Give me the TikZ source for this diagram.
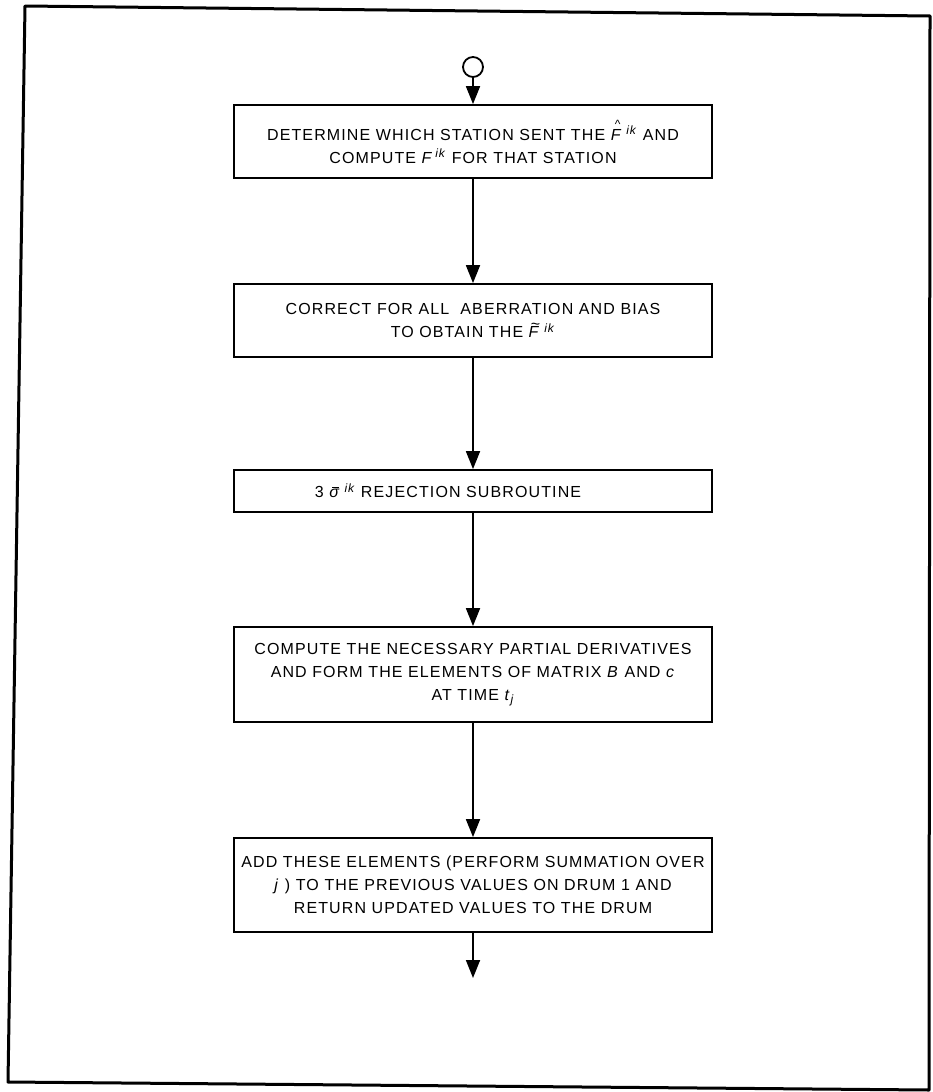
\documentclass[tikz,border=0pt]{standalone}
\usepackage{fontspec}
\setmainfont{Liberation Sans}[LetterSpace=7]
\usetikzlibrary{arrows.meta}
\newcommand\myover[2]{\leavevmode\vbox{\offinterlineskip\halign{\hfil##\hfil\cr#1\cr\noalign{\kern1pt}#2\cr}}}
\newcommand\mysupik{\kern4pt\raisebox{0.6ex}{\fontsize{12}{12}\selectfont\textit{ik}}}
\newcommand\myFik{\textit{F}\kern-2pt\mysupik}
\newcommand\myFhat{\myover{\kern2pt\fontsize{12}{12}\selectfont\textasciicircum}{\textit{F}}\mysupik}
\newcommand\myFtil{\myover{\kern2pt\fontsize{16}{10}\selectfont\raisebox{-4pt}[5pt][0pt]{\textasciitilde}}{\textit{F}}\mysupik}
\newcommand\mysig{\myover{\kern2pt\rule{7pt}{1pt}}{\textit{σ}}\mysupik}
\begin{document}
\begin{tikzpicture}[x=1pt,y=-1pt,
  stepbox/.style={draw,line width=1.8pt,minimum width=478pt,inner sep=0pt,align=center,
    font=\fontsize{16}{23}\selectfont},
  flow/.style={line width=1.8pt,-{Triangle[length=18pt,width=14pt]}},
  frameline/.style={line width=3pt,line join=round}]
\useasboundingbox (0,0) rectangle (932,1092);
\draw[frameline] (25,6) -- (930,16) -- (929,1090) -- (8,1082) -- cycle;

\node[draw,circle,line width=1.8pt,minimum size=20pt,inner sep=0pt] (start) at (473,67) {};

\node[stepbox,minimum height=73pt] (b1) at (473,141.5)
  {DETERMINE WHICH STATION SENT THE \myFhat\ AND\\COMPUTE \myFik\ FOR THAT STATION};
\node[stepbox,minimum height=73pt] (b2) at (473,320.5)
  {CORRECT FOR ALL\ \ ABERRATION AND BIAS\\TO OBTAIN THE \myFtil};
\node[stepbox,minimum height=42pt] (b3) at (473,491)
  {3 \mysig\ REJECTION SUBROUTINE\hspace*{50pt}};
\node[stepbox,minimum height=95pt] (b4) at (473,674.5)
  {COMPUTE THE NECESSARY PARTIAL DERIVATIVES\\AND FORM THE ELEMENTS OF MATRIX \textit{B} AND \textit{c}\\AT TIME \textit{t}\raisebox{-0.4ex}{\fontsize{12}{12}\selectfont\textit{j}}};
\node[stepbox,minimum height=94pt] (b5) at (473,885)
  {ADD THESE ELEMENTS (PERFORM SUMMATION OVER\\\textit{j} ) TO THE PREVIOUS VALUES ON DRUM 1 AND\\RETURN UPDATED VALUES TO THE DRUM};
\coordinate (end) at (473,978);

\draw[flow] (start) -- (b1);
\draw[flow] (b1) -- (b2);
\draw[flow] (b2) -- (b3);
\draw[flow] (b3) -- (b4);
\draw[flow] (b4) -- (b5);
\draw[flow] (b5) -- (end);
\end{tikzpicture}
\end{document}
